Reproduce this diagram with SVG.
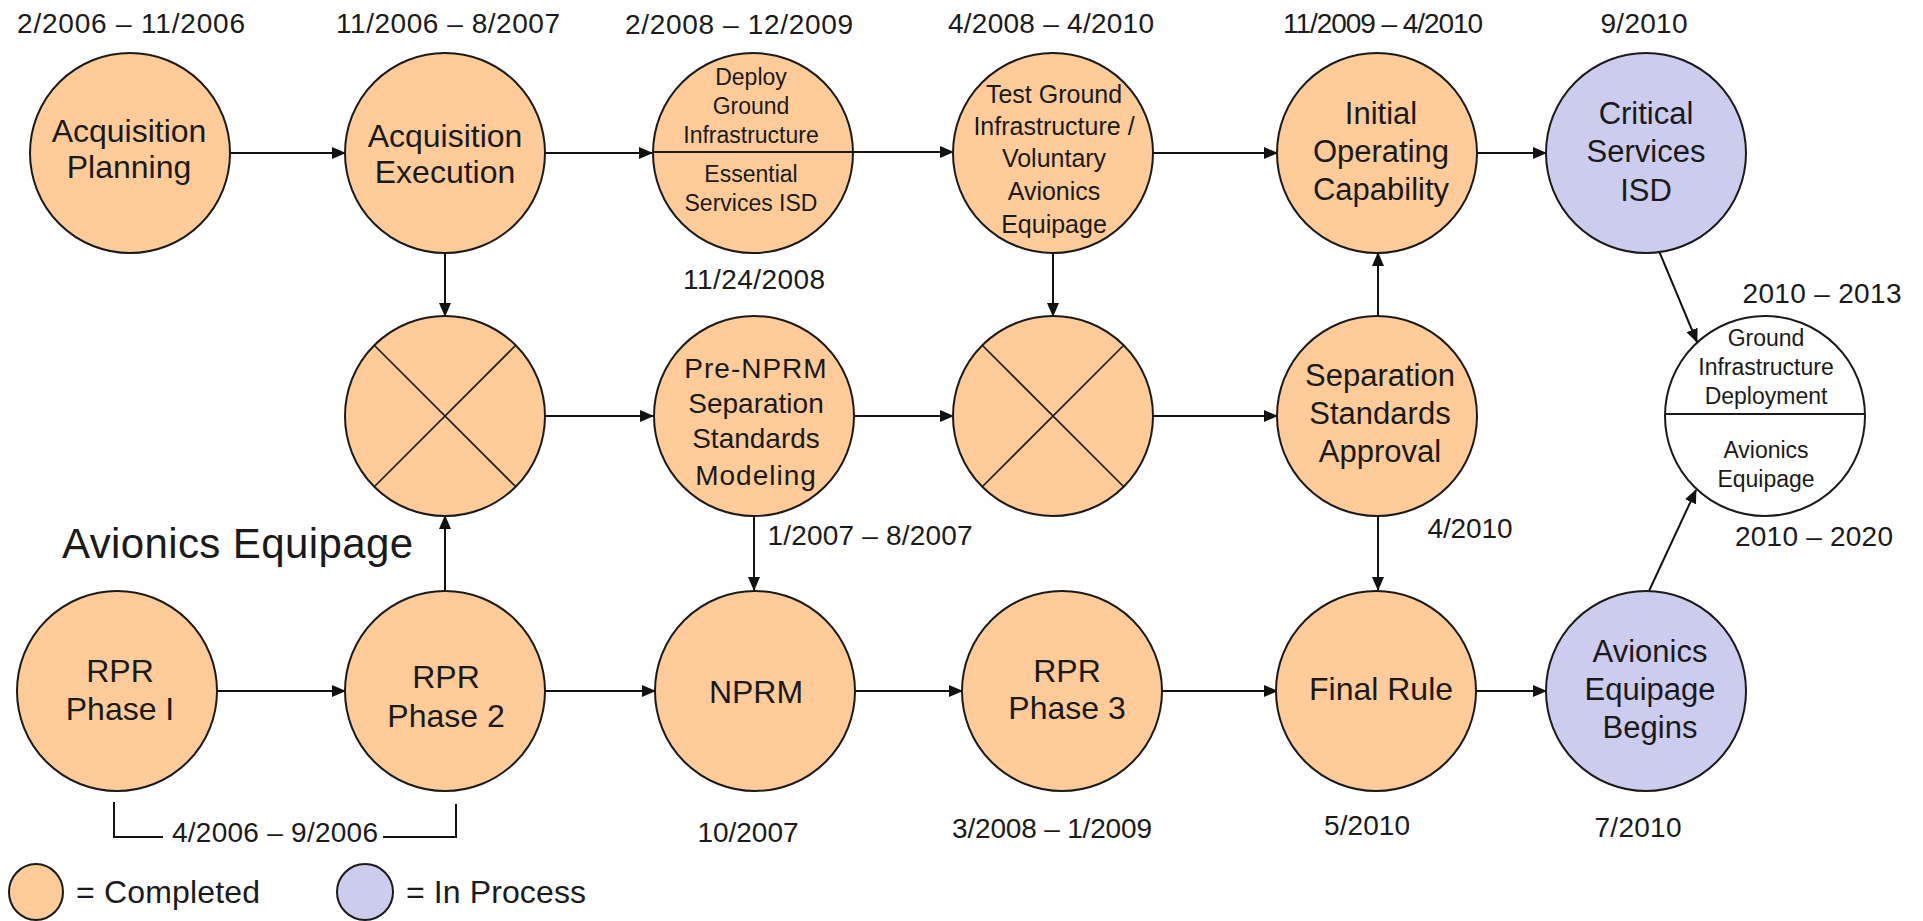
<svg xmlns="http://www.w3.org/2000/svg" width="1923" height="921" viewBox="0 0 1923 921">
<style>
.done{fill:#FFCC99;stroke:#1a1a1a;stroke-width:2}
.proc{fill:#CCCCEE;stroke:#1a1a1a;stroke-width:2}
.open{fill:#FFFFFF;stroke:#1a1a1a;stroke-width:2}
.div{stroke:#1a1a1a;stroke-width:2;fill:none}
.xl{stroke:#1a1a1a;stroke-width:1.6;fill:none}
.t{font-family:"Liberation Sans",Arial,sans-serif;fill:#1a1a1a;text-anchor:middle}
.d{font-family:"Liberation Sans",Arial,sans-serif;fill:#1a1a1a;text-anchor:middle;font-size:28px}
.c{stroke:#111;stroke-width:2;fill:none;marker-end:url(#ah)}
.b{stroke:#111;stroke-width:2;fill:none}
</style>
<defs>
<marker id="ah" markerUnits="userSpaceOnUse" markerWidth="14" markerHeight="12" refX="13" refY="6" orient="auto">
<path d="M0,0 L14,6 L0,12 z" fill="#111"/>
</marker>
</defs>
<rect width="1923" height="921" fill="#FFFFFF"/>

<g id="connectors">
<line class="c" x1="230" y1="153" x2="345" y2="153"/>
<line class="c" x1="545" y1="153" x2="652" y2="153"/>
<line class="c" x1="853" y1="152" x2="953" y2="152"/>
<line class="c" x1="1153" y1="153" x2="1277" y2="153"/>
<line class="c" x1="1477" y1="153" x2="1546" y2="153"/>
<line class="c" x1="545" y1="416" x2="653" y2="416"/>
<line class="c" x1="855" y1="416" x2="953" y2="416"/>
<line class="c" x1="1153" y1="416" x2="1277" y2="416"/>
<line class="c" x1="217" y1="691" x2="345" y2="691"/>
<line class="c" x1="545" y1="691" x2="655" y2="691"/>
<line class="c" x1="855" y1="691" x2="962" y2="691"/>
<line class="c" x1="1162" y1="691" x2="1277" y2="691"/>
<line class="c" x1="1476" y1="691" x2="1546" y2="691"/>
<line class="c" x1="445" y1="253" x2="445" y2="316"/>
<line class="c" x1="445" y1="591" x2="445" y2="516"/>
<line class="c" x1="754" y1="516" x2="754" y2="590"/>
<line class="c" x1="1053" y1="253" x2="1053" y2="316"/>
<line class="c" x1="1378" y1="316" x2="1378" y2="253"/>
<line class="c" x1="1378" y1="516" x2="1378" y2="590"/>
<line class="c" x1="1659" y1="251" x2="1697" y2="342"/>
<line class="c" x1="1649" y1="591" x2="1696" y2="490"/>
<path class="b" d="M114,802 V837 H163 M383,837 H456 V804"/>
</g>

<g id="n-acq-planning">
<circle class="done" cx="130" cy="153" r="100"/>
<text class="t" font-size="32" x="129" y="142">Acquisition</text>
<text class="t" font-size="32" x="129" y="178">Planning</text>
</g>
<g id="n-acq-execution">
<circle class="done" cx="445" cy="153" r="100"/>
<text class="t" font-size="32" x="445" y="147">Acquisition</text>
<text class="t" font-size="32" x="445" y="183">Execution</text>
</g>
<g id="n-deploy">
<circle class="done" cx="753" cy="153" r="100"/>
<line class="div" x1="653" y1="152" x2="853" y2="152"/>
<text class="t" font-size="23" x="751" y="85">Deploy</text>
<text class="t" font-size="23" x="751" y="114">Ground</text>
<text class="t" font-size="23" x="751" y="143">Infrastructure</text>
<text class="t" font-size="23" x="751" y="182">Essential</text>
<text class="t" font-size="23" x="751" y="211">Services ISD</text>
</g>
<g id="n-test-ground">
<circle class="done" cx="1053" cy="153" r="100"/>
<text class="t" font-size="25" x="1054" y="103">Test Ground</text>
<text class="t" font-size="25" x="1054" y="135">Infrastructure /</text>
<text class="t" font-size="25" x="1054" y="167">Voluntary</text>
<text class="t" font-size="25" x="1054" y="200">Avionics</text>
<text class="t" font-size="25" x="1054" y="233">Equipage</text>
</g>
<g id="n-ioc">
<circle class="done" cx="1377" cy="153" r="100"/>
<text class="t" font-size="31" x="1381" y="124">Initial</text>
<text class="t" font-size="31" x="1381" y="162">Operating</text>
<text class="t" font-size="31" x="1381" y="200">Capability</text>
</g>
<g id="n-critical">
<circle class="proc" cx="1646" cy="153" r="100"/>
<text class="t" font-size="31" x="1646" y="124">Critical</text>
<text class="t" font-size="31" x="1646" y="162">Services</text>
<text class="t" font-size="31" x="1646" y="201">ISD</text>
</g>
<g id="n-x1">
<circle class="done" cx="445" cy="416" r="100"/>
<path class="xl" d="M374,345 L516,487 M516,345 L374,487"/>
</g>
<g id="n-pre-nprm">
<circle class="done" cx="754" cy="416" r="100"/>
<text class="t" font-size="28" x="756" y="378" letter-spacing="1">Pre-NPRM</text>
<text class="t" font-size="28" x="756" y="413">Separation</text>
<text class="t" font-size="28" x="756" y="448">Standards</text>
<text class="t" font-size="28" x="756" y="485" letter-spacing="1">Modeling</text>
</g>
<g id="n-x2">
<circle class="done" cx="1053" cy="416" r="100"/>
<path class="xl" d="M982,345 L1124,487 M1124,345 L982,487"/>
</g>
<g id="n-sep-approval">
<circle class="done" cx="1377" cy="416" r="100"/>
<text class="t" font-size="31" x="1380" y="386">Separation</text>
<text class="t" font-size="31" x="1380" y="424">Standards</text>
<text class="t" font-size="31" x="1380" y="462">Approval</text>
</g>
<g id="n-ground-avionics">
<circle class="open" cx="1765" cy="416" r="100"/>
<line class="div" x1="1665" y1="414" x2="1865" y2="414"/>
<text class="t" font-size="23" x="1766" y="346">Ground</text>
<text class="t" font-size="23" x="1766" y="375">Infrastructure</text>
<text class="t" font-size="23" x="1766" y="404">Deployment</text>
<text class="t" font-size="23" x="1766" y="458">Avionics</text>
<text class="t" font-size="23" x="1766" y="487">Equipage</text>
</g>
<g id="n-rpr1">
<circle class="done" cx="117" cy="691" r="100"/>
<text class="t" font-size="32" x="120" y="682">RPR</text>
<text class="t" font-size="32" x="120" y="720">Phase I</text>
</g>
<g id="n-rpr2">
<circle class="done" cx="445" cy="691" r="100"/>
<text class="t" font-size="32" x="446" y="688">RPR</text>
<text class="t" font-size="32" x="446" y="727">Phase 2</text>
</g>
<g id="n-nprm">
<circle class="done" cx="755" cy="691" r="100"/>
<text class="t" font-size="32" x="756" y="703">NPRM</text>
</g>
<g id="n-rpr3">
<circle class="done" cx="1062" cy="691" r="100"/>
<text class="t" font-size="32" x="1067" y="682">RPR</text>
<text class="t" font-size="32" x="1067" y="719">Phase 3</text>
</g>
<g id="n-final-rule">
<circle class="done" cx="1376" cy="691" r="100"/>
<text class="t" font-size="32" x="1381" y="700">Final Rule</text>
</g>
<g id="n-avionics-begins">
<circle class="proc" cx="1646" cy="691" r="100"/>
<text class="t" font-size="31" x="1650" y="662">Avionics</text>
<text class="t" font-size="31" x="1650" y="700">Equipage</text>
<text class="t" font-size="31" x="1650" y="738">Begins</text>
</g>

<g id="labels">
<text class="d" x="131" y="33" textLength="228">2/2006 – 11/2006</text>
<text class="d" x="448" y="33" textLength="224">11/2006 – 8/2007</text>
<text class="d" x="739" y="34" textLength="228">2/2008 – 12/2009</text>
<text class="d" x="1051" y="33" textLength="206">4/2008 – 4/2010</text>
<text class="d" x="1383" y="33" textLength="200">11/2009 – 4/2010</text>
<text class="d" x="1644" y="33" textLength="87">9/2010</text>
<text class="d" x="754" y="289" textLength="142">11/24/2008</text>
<text class="d" x="870" y="545" textLength="205">1/2007 – 8/2007</text>
<text class="d" x="1470" y="538" textLength="85">4/2010</text>
<text class="d" x="1822" y="303" textLength="159">2010 – 2013</text>
<text class="d" x="1814" y="546" textLength="158">2010 – 2020</text>
<text class="d" x="748" y="842" textLength="101">10/2007</text>
<text class="d" x="1052" y="838" textLength="200">3/2008 – 1/2009</text>
<text class="d" x="1367" y="835" textLength="86">5/2010</text>
<text class="d" x="1638" y="837" textLength="87">7/2010</text>
<text class="d" x="275" y="842" textLength="206">4/2006 – 9/2006</text>
<text x="62" y="558" font-family="Liberation Sans, Arial, sans-serif" font-size="42" fill="#1a1a1a" textLength="351">Avionics Equipage</text>
</g>

<g id="legend">
<ellipse class="done" cx="36" cy="892" rx="27" ry="28"/>
<text x="76" y="903" font-family="Liberation Sans, Arial, sans-serif" font-size="32" fill="#1a1a1a" textLength="184">= Completed</text>
<ellipse class="proc" cx="365" cy="892" rx="28" ry="28"/>
<text x="406" y="903" font-family="Liberation Sans, Arial, sans-serif" font-size="32" fill="#1a1a1a" textLength="180">= In Process</text>
</g>
</svg>
